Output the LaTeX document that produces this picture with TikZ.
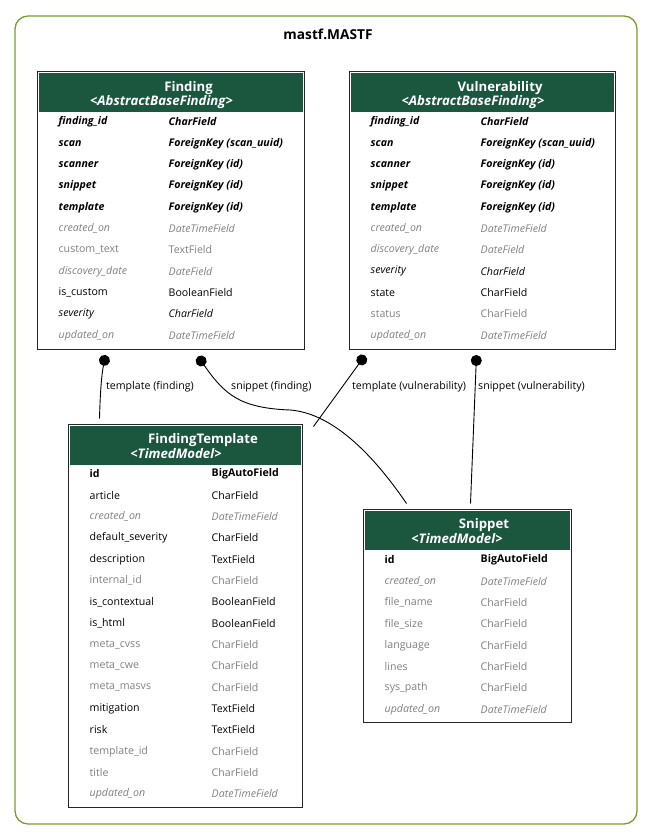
\documentclass[tikz,border=0pt]{standalone}
\usepackage{fontspec}
\setmainfont{Open Sans}
\usetikzlibrary{arrows.meta}
\definecolor{hdgreen}{RGB}{27,86,63}
\definecolor{fldgrey}{RGB}{128,128,128}
\definecolor{clolive}{RGB}{122,156,48}
\newcommand\fldsize{\fontsize{10.6}{12}\selectfont}
\tikzset{
  model/.style={draw=black!85,line width=1pt,fill=white,inner sep=0pt},
  cluster/.style={draw=clolive,line width=1.3pt,rounded corners=13pt,inner sep=0pt},
  hdname/.style={text=white,inner sep=0pt,font=\fontsize{13.2}{14}\selectfont\bfseries},
  hdsub/.style={text=white,inner sep=0pt,font=\fontsize{13.2}{14}\selectfont\bfseries\itshape},
  fld/.style={anchor=west,inner sep=0pt},
  kbi/.style={font=\fldsize\bfseries\itshape},
  kbd/.style={font=\fldsize\bfseries},
  kit/.style={font=\fldsize\itshape},
  knm/.style={font=\fldsize},
  kgi/.style={font=\fldsize\itshape,text=fldgrey},
  kgr/.style={font=\fldsize,text=fldgrey},
  lbl/.style={anchor=west,inner sep=0pt,font=\fldsize},
  rel/.style={draw=black,line width=0.9pt,{Circle[length=11pt,width=11pt]}-}
}
\begin{document}
\begin{tikzpicture}[x=1pt,y=-1pt]
\useasboundingbox (0,0) rectangle (653,840);
% app cluster
\node[cluster,minimum width=622pt,minimum height=808pt] (mastf) at (326,420) {};
\node[font=\fontsize{13.7}{15}\selectfont\bfseries] (title) at (328,34) {mastf.MASTF};

% models
\node[model,minimum width=267pt,minimum height=277pt] (finding) at (170.5,210.5) {};
\node[model,minimum width=266pt,minimum height=277pt] (vuln) at (482,210.5) {};
\node[model,minimum width=234pt,minimum height=383pt] (ftemplate) at (185,615.5) {};
\node[model,minimum width=208pt,minimum height=213pt] (snippet) at (467,615.5) {};

\foreach \m in {finding,vuln,ftemplate,snippet}
  \fill[hdgreen] ([shift={(2,2)}]\m.north west) rectangle ([shift={(-2,41)}]\m.north east);

\node[hdname] (finding-name) at ([shift={(18,16.5)}]finding.north) {Finding};
\node[hdsub] (finding-sub) at ([shift={(-9,30.5)}]finding.north) {<AbstractBaseFinding>};
\node[hdname] (vuln-name) at ([shift={(18,16.5)}]vuln.north) {Vulnerability};
\node[hdsub] (vuln-sub) at ([shift={(-9,30.5)}]vuln.north) {<AbstractBaseFinding>};
\node[hdname] (ftemplate-name) at ([shift={(18,16.5)}]ftemplate.north) {FindingTemplate};
\node[hdsub] (ftemplate-sub) at ([shift={(-9,30.5)}]ftemplate.north) {<TimedModel>};
\node[hdname] (snippet-name) at ([shift={(17,16.5)}]snippet.north) {Snippet};
\node[hdsub] (snippet-sub) at ([shift={(-10,30.5)}]snippet.north) {<TimedModel>};

% fields
\foreach \n/\t/\s [count=\i from 0] in {finding\_id/CharField/kbi,scan/ForeignKey (scan\_uuid)/kbi,
  scanner/ForeignKey (id)/kbi,snippet/ForeignKey (id)/kbi,template/ForeignKey (id)/kbi,
  created\_on/DateTimeField/kgi,custom\_text/TextField/kgr,discovery\_date/DateField/kgi,
  is\_custom/BooleanField/knm,severity/CharField/kit,updated\_on/DateTimeField/kgi}
  {\node[fld,\s] (finding-n\i) at ([shift={(22,50.5+21.33*\i)}]finding.north west) {\n};
   \node[fld,\s] (finding-t\i) at ([shift={(132,50.5+21.33*\i)}]finding.north west) {\t};}

\foreach \n/\t/\s [count=\i from 0] in {finding\_id/CharField/kbi,scan/ForeignKey (scan\_uuid)/kbi,
  scanner/ForeignKey (id)/kbi,snippet/ForeignKey (id)/kbi,template/ForeignKey (id)/kbi,
  created\_on/DateTimeField/kgi,discovery\_date/DateField/kgi,severity/CharField/kit,
  state/CharField/knm,status/CharField/kgr,updated\_on/DateTimeField/kgi}
  {\node[fld,\s] (vuln-n\i) at ([shift={(22,50.5+21.33*\i)}]vuln.north west) {\n};
   \node[fld,\s] (vuln-t\i) at ([shift={(132,50.5+21.33*\i)}]vuln.north west) {\t};}

\foreach \n/\t/\s [count=\i from 0] in {id/BigAutoField/kbd,article/CharField/knm,
  created\_on/DateTimeField/kgi,default\_severity/CharField/knm,description/TextField/knm,
  internal\_id/CharField/kgr,is\_contextual/BooleanField/knm,is\_html/BooleanField/knm,
  meta\_cvss/CharField/kgr,meta\_cwe/CharField/kgr,meta\_masvs/CharField/kgr,
  mitigation/TextField/knm,risk/TextField/knm,template\_id/CharField/kgr,
  title/CharField/kgr,updated\_on/DateTimeField/kgi}
  {\node[fld,\s] (ftemplate-n\i) at ([shift={(22,50.5+21.33*\i)}]ftemplate.north west) {\n};
   \node[fld,\s] (ftemplate-t\i) at ([shift={(144,50.5+21.33*\i)}]ftemplate.north west) {\t};}

\foreach \n/\t/\s [count=\i from 0] in {id/BigAutoField/kbd,created\_on/DateTimeField/kgi,
  file\_name/CharField/kgr,file\_size/CharField/kgr,language/CharField/kgr,
  lines/CharField/kgr,sys\_path/CharField/kgr,updated\_on/DateTimeField/kgi}
  {\node[fld,\s] (snippet-n\i) at ([shift={(22,51.5+21.33*\i)}]snippet.north west) {\n};
   \node[fld,\s] (snippet-t\i) at ([shift={(118,51.5+21.33*\i)}]snippet.north west) {\t};}

% relations
\coordinate (tf-a) at ([shift={(69,5.5)}]finding.south west);
\coordinate (tf-b) at ([shift={(32,-5)}]ftemplate.north west);
\coordinate (sf-a) at ([shift={(161.5,7)}]finding.south west);
\coordinate (sf-b) at ([shift={(44,-5)}]snippet.north west);
\coordinate (tv-a) at ([shift={(16.5,6)}]vuln.south west);
\coordinate (tv-b) at ([shift={(11,3)}]ftemplate.north east);
\coordinate (sv-a) at ([shift={(128,5.5)}]vuln.south west);
\coordinate (sv-b) at ([shift={(108,-5)}]snippet.north west);

\draw[rel] (tf-a) .. controls (101,378) and (100,400) .. (tf-b);
\draw[rel] (sf-a) .. controls (225,395) and (240,408) .. (290,410) .. controls (330,413) and (370,450) .. (sf-b);
\draw[rel] (tv-a) -- (tv-b);
\draw[rel] (sv-a) -- (sv-b);

\node[lbl] (tf-lbl) at (106,386.5) {template (finding)};
\node[lbl] (sf-lbl) at (231,386.5) {snippet (finding)};
\node[lbl] (tv-lbl) at (352,386.5) {template (vulnerability)};
\node[lbl] (sv-lbl) at (478,386.5) {snippet (vulnerability)};
\end{tikzpicture}
\end{document}
